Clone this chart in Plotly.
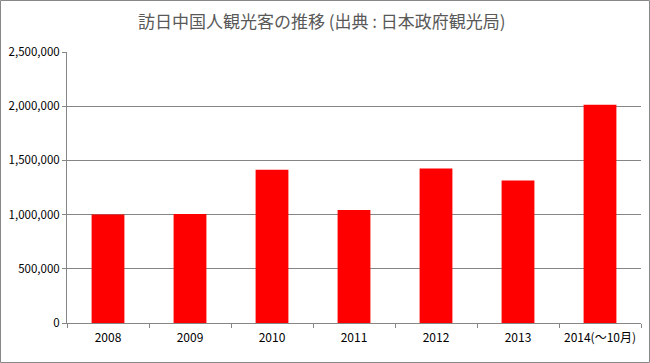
import plotly.graph_objects as go

years = ["2008", "2009", "2010", "2011", "2012", "2013", "2014(～10月)"]
visitors = [1000416, 1006085, 1412875, 1043246, 1425100, 1314437, 2013000]
y_ticks = [0, 500000, 1000000, 1500000, 2000000, 2500000]
y_tick_labels = ["0", "500,000", "1,000,000", "1,500,000", "2,000,000", "2,500,000"]

W, H = 650, 363
ML, MR, MT, MB = 67, 9, 52, 40
PW, PH = W - ML - MR, H - MT - MB

fig = go.Figure(go.Bar(x=years, y=visitors, marker_color="#FF0000",
                       marker_line_width=0, width=0.4, hoverinfo="skip"))

font_fam = "Noto Sans CJK JP, Liberation Sans, sans-serif"
fig.update_layout(
    width=W, height=H,
    margin=dict(l=ML, r=MR, t=MT, b=MB, autoexpand=False),
    paper_bgcolor="white", plot_bgcolor="white",
    title=dict(text="訪日中国人観光客の推移 (出典 : 日本政府観光局)", x=0.495, xanchor="center",
               y=1 - 22 / H, yanchor="middle",
               font=dict(family=font_fam, size=17, color="#595959")),
    showlegend=False,
    font=dict(family=font_fam, size=11, color="#000000"),
    xaxis=dict(type="category", tickson="boundaries", ticks="outside", ticklen=4,
               tickcolor="#868686", showline=True, linecolor="#868686", linewidth=1,
               showgrid=False, automargin=False, ticklabelstandoff=4,
               tickfont=dict(size=12, color="#000000")),
    yaxis=dict(range=[0, 2500000], tickvals=y_ticks, ticktext=y_tick_labels,
               ticks="outside", ticklen=4, tickcolor="#868686",
               showline=True, linecolor="#868686", linewidth=1, automargin=False,
               showgrid=True, gridcolor="#868686", gridwidth=1, zeroline=False,
               tickfont=dict(size=11.5, color="#000000")),
    shapes=[dict(type="rect", xref="paper", yref="paper",
                 x0=(-ML + 0.5) / PW, x1=1 + (MR - 0.5) / PW,
                 y0=(-MB + 0.5) / PH, y1=1 + (MT - 0.5) / PH,
                 line=dict(color="#888888", width=1), layer="above")],
)

fig.write_html("out.html", config={"displayModeBar": False},
               post_script="document.body.style.margin='0';document.body.style.overflow='hidden';")
